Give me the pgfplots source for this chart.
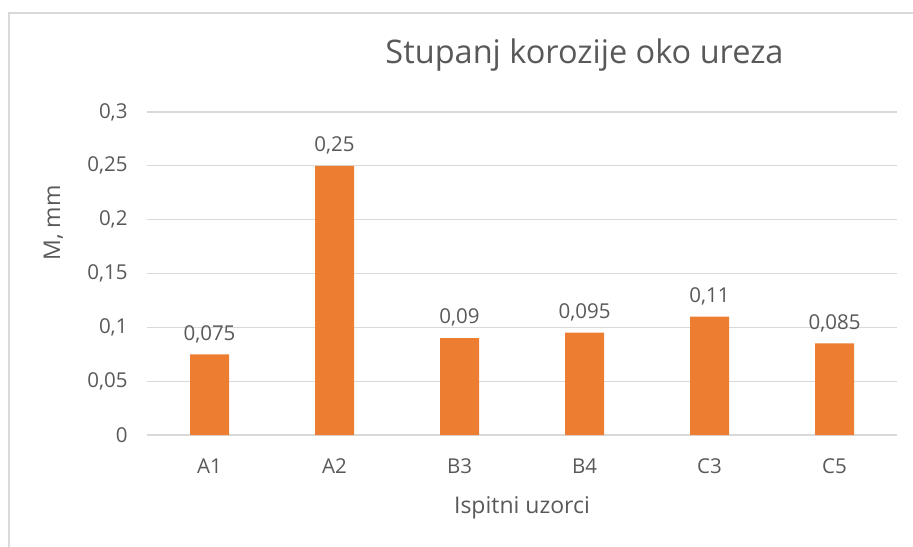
\documentclass[border=0pt]{standalone}
\usepackage{pgfplots}
\pgfplotsset{compat=1.18}
\usepackage{fontspec}
\setmainfont{Open Sans}
\definecolor{barorange}{HTML}{ED7D31}
\definecolor{txtgray}{HTML}{595959}
\definecolor{gridgray}{HTML}{D9D9D9}
\newcommand{\tickfont}{\fontsize{20.5bp}{24bp}\selectfont}
\newcommand{\labfont}{\fontsize{23bp}{27bp}\selectfont}
\newcommand{\titfont}{\fontsize{32.5bp}{38bp}\selectfont}
\begin{document}
\begin{tikzpicture}[x=1bp,y=1bp]
\path[use as bounding box] (0,0) rectangle (913,-547);
% chart frame (only left and top edges fall inside the page)
\draw[gridgray, line width=1.3bp] (9,-600) -- (9,-13) -- (960,-13);
\begin{axis}[
  at={(147bp,-435bp)}, anchor=south west,
  scale only axis, width=750bp, height=323bp,
  xmin=-0.5, xmax=5.5, ymin=0, ymax=0.3,
  axis line style={draw=none},
  major tick length=0pt,
  ymajorgrids, grid style={gridgray, line width=1.3bp},
  xtick={0,1,2,3,4,5},
  xticklabels={A1,A2,B3,B4,C3,C5},
  ytick={0,0.05,0.1,0.15,0.2,0.25,0.3},
  yticklabels={0,{0,05},{0,1},{0,15},{0,2},{0,25},{0,3}},
  yticklabel style={font=\tickfont, text=txtgray, xshift=-16bp},
  xticklabel style={font=\tickfont, text=txtgray, anchor=base, yshift=-38bp},
  ybar, bar width=39bp,
  point meta=explicit symbolic,
  nodes near coords,
  every node near coord/.append style={font=\tickfont, text=txtgray, yshift=8bp},
]
% value labels use a decimal comma
\addplot[fill=barorange, draw=none] table[meta=lab] {
x   y     lab
0   0.075 0,075
1   0.25  0,25
2   0.09  0,09
3   0.095 0,095
4   0.11  0,11
5   0.085 0,085
};
\end{axis}
\node[anchor=base, text=txtgray, font=\titfont, inner sep=0] at (584.5,-64) {Stupanj korozije oko ureza};
\node[anchor=base, text=txtgray, font=\labfont, inner sep=0] at (522,-513.3) {Ispitni uzorci};
\node[anchor=base, rotate=90, text=txtgray, font=\labfont, inner sep=0] at (60,-223) {M, mm};
\end{tikzpicture}
\end{document}
